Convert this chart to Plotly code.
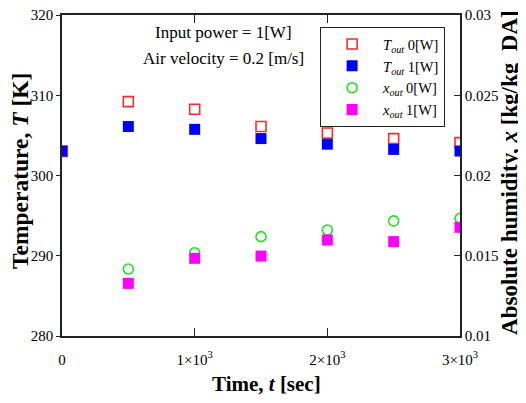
import plotly.graph_objects as go

# dados
time_t = [0, 500, 1000, 1500, 2000, 2500, 3000]
t_out_0w = [303.0, 309.2, 308.25, 306.1, 305.3, 304.6, 304.1]
t_out_1w = [303.05, 306.1, 305.75, 304.6, 303.9, 303.25, 303.05]

time_x = [500, 1000, 1500, 2000, 2500, 3000]
x_out_0w = [0.01417, 0.01519, 0.01619, 0.0166, 0.01717, 0.01733]
x_out_1w = [0.01328, 0.01484, 0.01498, 0.01598, 0.01588, 0.01677]

x_tickvals = [0, 1000, 2000, 3000]
x_ticktext = ['0', '1×10<sup>3</sup>', '2×10<sup>3</sup>', '3×10<sup>3</sup>']
y_tickvals = [280, 290, 300, 310, 320]
y2_tickvals = [0.01, 0.015, 0.02, 0.025, 0.03]
y2_ticktext = ['0.01', '0.015', '0.02', '0.025', '0.03']

FONT = 'Liberation Serif'

fig = go.Figure()
fig.add_trace(go.Scatter(x=time_t, y=t_out_0w, mode='markers', name='<i>T</i><sub><i>out</i></sub> 0[W]',
                         marker=dict(symbol='square-open', size=10, color='#ff2a2a', line=dict(width=1.6))))
fig.add_trace(go.Scatter(x=time_t, y=t_out_1w, mode='markers', name='<i>T</i><sub><i>out</i></sub> 1[W]',
                         marker=dict(symbol='square', size=11, color='#0000ff')))
fig.add_trace(go.Scatter(x=time_x, y=x_out_0w, mode='markers', name='<i>x</i><sub><i>out</i></sub> 0[W]', yaxis='y2',
                         marker=dict(symbol='circle-open', size=10, color='#22e022', line=dict(width=1.6))))
fig.add_trace(go.Scatter(x=time_x, y=x_out_1w, mode='markers', name='<i>x</i><sub><i>out</i></sub> 1[W]', yaxis='y2',
                         marker=dict(symbol='square', size=11, color='#ff00ff')))

# a pagina tem margem de 8px no body, entao a figura e um pouco menor
fig.update_layout(
    width=518, height=387,
    margin=dict(l=54, r=66, t=7, b=59),
    paper_bgcolor='white', plot_bgcolor='white',
    font=dict(family=FONT, size=15, color='black'),
    showlegend=True,
    legend=dict(x=0.648, y=0.963, xanchor='left', yanchor='top',
                bordercolor='#222', borderwidth=1.2, bgcolor='white',
                font=dict(family=FONT, size=14.5), tracegroupgap=0,
                itemwidth=52),
    xaxis=dict(range=[0, 3000], tickvals=x_tickvals, ticktext=x_ticktext,
               ticks='inside', ticklen=8, tickwidth=1.2, tickcolor='#222',
               showline=True, linecolor='#222', linewidth=1.5, mirror='ticks',
               showgrid=False, zeroline=False, ticklabelstandoff=9, automargin=False,
               ticklabeloverflow='allow'),
    yaxis=dict(range=[280, 320], tickvals=y_tickvals,
               ticks='outside', ticklen=4, tickwidth=1.2, tickcolor='#222',
               showline=True, linecolor='#222', linewidth=1.5,
               showgrid=False, zeroline=False, automargin=False,
               ticklabeloverflow='allow'),
    yaxis2=dict(range=[0.01, 0.03], tickvals=y2_tickvals, ticktext=y2_ticktext,
                overlaying='y', side='right',
                ticks='inside', ticklen=6, tickwidth=1.2, tickcolor='#222',
                showline=True, linecolor='#222', linewidth=1.5,
                showgrid=False, zeroline=False, automargin=False,
                ticklabeloverflow='allow'),
)

# textos dentro do grafico
fig.add_annotation(x=0.407, y=0.947, xref='paper', yref='paper', showarrow=False,
                   text='Input power = 1[W]', font=dict(family=FONT, size=17), xanchor='center', yanchor='middle')
fig.add_annotation(x=0.407, y=0.866, xref='paper', yref='paper', showarrow=False,
                   text='Air velocity = 0.2 [m/s]', font=dict(family=FONT, size=17), xanchor='center', yanchor='middle')

# titulos dos eixos
fig.add_annotation(x=-0.1055, y=0.514, xref='paper', yref='paper', showarrow=False, textangle=-90,
                   text='<b>Temperature, <i>T</i> [K]</b>', font=dict(family=FONT, size=23.5),
                   xanchor='center', yanchor='middle')
fig.add_annotation(x=1.1256, y=0.511, xref='paper', yref='paper', showarrow=False, textangle=-90,
                   text='<b>Absolute humidity, <i>x</i> [kg/kg_DA]</b>', font=dict(family=FONT, size=23),
                   xanchor='center', yanchor='middle')
fig.add_annotation(x=0.515, y=-0.1495, xref='paper', yref='paper', showarrow=False,
                   text='<b>Time, <i>t</i> [sec]</b>', font=dict(family=FONT, size=21),
                   xanchor='center', yanchor='middle')

fig.write_html("out.html")
